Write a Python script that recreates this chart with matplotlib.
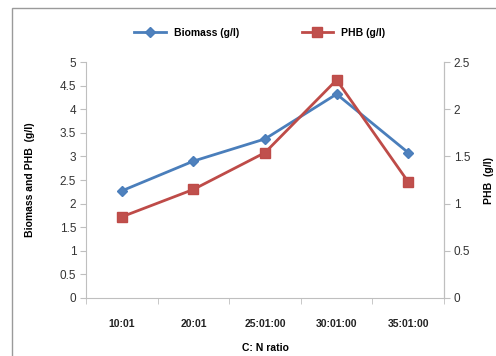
import matplotlib
matplotlib.use("Agg")
import matplotlib.pyplot as plt
from matplotlib.patches import Rectangle

categories = ["10:01", "20:01", "25:01:00", "30:01:00", "35:01:00"]
biomass = [2.27, 2.9, 3.37, 4.32, 3.08]
phb = [0.86, 1.15, 1.54, 2.31, 1.23]
left_ticks = [0, 0.5, 1, 1.5, 2, 2.5, 3, 3.5, 4, 4.5, 5]
right_ticks = [0, 0.5, 1, 1.5, 2, 2.5]

plt.rcParams['font.family'] = ['Liberation Sans', 'DejaVu Sans']

fig = plt.figure(figsize=(4.96, 3.56), dpi=100)
fig.patches.append(Rectangle((12/496, -10/356), 490/496, 358/356, transform=fig.transFigure,
                             fill=False, edgecolor='#9a9a9a', linewidth=1.0))
ax = fig.add_axes([86/496, 1-298/356, (444-86)/496, (298-62)/356])
ax2 = ax.twinx()

x = list(range(len(categories)))
blue = '#4a7ebb'
red = '#be4b48'
l1, = ax.plot(x, biomass, color=blue, lw=2, marker='D', ms=5, mfc='#4f81bd', mec=blue, label='Biomass (g/l)')
l2, = ax2.plot(x, phb, color=red, lw=2, marker='s', ms=7, mfc='#c0504d', mec=red, label='PHB (g/l)')

ax.set_xlim(-0.5, len(categories) - 0.5)
ax.set_ylim(0, 5)
ax2.set_ylim(0, 2.5)
ax.set_yticks(left_ticks)
ax.set_yticklabels([f"{t:g}" for t in left_ticks])
ax2.set_yticks(right_ticks)
ax2.set_yticklabels([f"{t:g}" for t in right_ticks])
ax.set_xticks(x)
ax.set_xticklabels(categories, fontweight='bold')
ax.set_xticks([i - 0.5 for i in range(len(categories) + 1)], minor=True)
ax.tick_params(axis='x', which='major', length=0, pad=15, labelsize=7.5, colors='#222222')
ax.tick_params(axis='x', which='minor', length=4, color='#bfbfbf', direction='out')
ax.tick_params(axis='y', length=4, color='#bfbfbf', labelsize=8.5, labelcolor='#333333', pad=3)
ax2.tick_params(axis='y', length=4, color='#bfbfbf', labelsize=8.5, labelcolor='#333333', pad=3)

for a in (ax, ax2):
    a.spines['top'].set_visible(False)
    for s in ('left', 'right', 'bottom'):
        a.spines[s].set_color('#bfbfbf')
ax2.spines['left'].set_visible(False)
ax2.spines['bottom'].set_visible(False)

ax.set_xlabel("C: N ratio", fontsize=7.5, fontweight='bold', labelpad=10)
ax.set_ylabel("Biomass and PHB  (g/l)", fontsize=7.5, fontweight='bold', labelpad=18)
ax2.set_ylabel("PHB  (g/l)", fontsize=7.5, fontweight='bold', labelpad=10)

fig.legend([l1, l2], ['Biomass (g/l)', 'PHB (g/l)'], loc='center', bbox_to_anchor=(260/496, 1-33/356),
           ncol=2, frameon=False, prop={'size': 7.5, 'weight': 'bold'}, columnspacing=6, handlelength=3)

fig.savefig("out.png", dpi=100)
